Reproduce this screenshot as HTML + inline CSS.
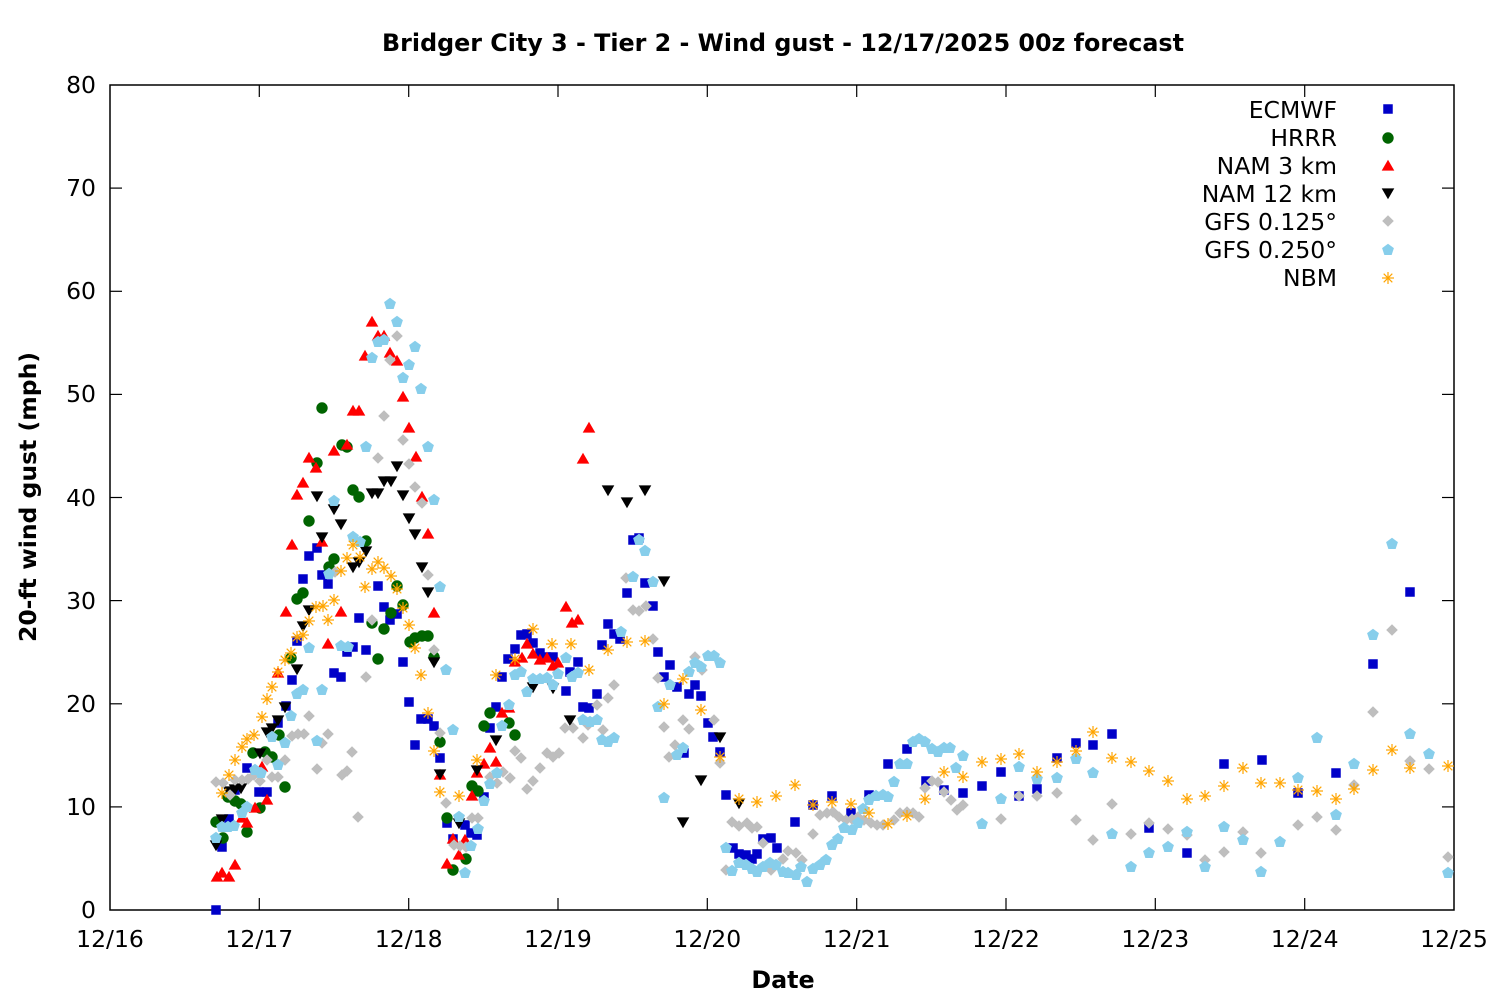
<!DOCTYPE html>
<html><head><meta charset="utf-8"><style>
html,body{margin:0;padding:0;background:#fff}
svg{display:block}
text{font-family:"DejaVu Sans","Liberation Sans",sans-serif;fill:#000}
</style></head><body>
<svg width="1500" height="1000" viewBox="0 0 1500 1000" xmlns="http://www.w3.org/2000/svg" xmlns:xlink="http://www.w3.org/1999/xlink">
<defs>
<rect id="s" x="-4.75" y="-4.75" width="9.5" height="9.5" fill="#0000c8"/>
<circle id="c" r="5.7" fill="#006400"/>
<polygon id="u" points="0,-6.2 6.3,4.6 -6.3,4.6" fill="#ff0000"/>
<polygon id="d" points="0,6.2 6.3,-4.6 -6.3,-4.6" fill="#000000"/>
<polygon id="g" points="0,-5.8 5.8,0 0,5.8 -5.8,0" fill="#bebebe"/>
<polygon id="p" points="0,-6.2 5.9,-1.92 3.64,5.02 -3.64,5.02 -5.9,-1.92" fill="#87ceeb"/>
<g id="n" stroke="#ffa500" stroke-width="1.2" fill="none"><line x1="-6" y1="0" x2="6" y2="0"/><line x1="0" y1="-6" x2="0" y2="6"/><line x1="-4.3" y1="-4.3" x2="4.3" y2="4.3"/><line x1="-4.3" y1="4.3" x2="4.3" y2="-4.3"/></g>
</defs>
<rect width="1500" height="1000" fill="#fff"/>

<!-- ticks -->
<g stroke="#000" stroke-width="1.2">
<line x1="110" y1="806.9" x2="122" y2="806.9"/><line x1="110" y1="703.8" x2="122" y2="703.8"/><line x1="110" y1="600.6" x2="122" y2="600.6"/><line x1="110" y1="497.5" x2="122" y2="497.5"/><line x1="110" y1="394.4" x2="122" y2="394.4"/><line x1="110" y1="291.3" x2="122" y2="291.3"/><line x1="110" y1="188.1" x2="122" y2="188.1"/>
<line x1="1442" y1="806.9" x2="1454" y2="806.9"/><line x1="1442" y1="703.8" x2="1454" y2="703.8"/><line x1="1442" y1="600.6" x2="1454" y2="600.6"/><line x1="1442" y1="497.5" x2="1454" y2="497.5"/><line x1="1442" y1="394.4" x2="1454" y2="394.4"/><line x1="1442" y1="291.3" x2="1454" y2="291.3"/><line x1="1442" y1="188.1" x2="1454" y2="188.1"/>
<line x1="259.3" y1="898" x2="259.3" y2="910"/><line x1="408.7" y1="898" x2="408.7" y2="910"/><line x1="558" y1="898" x2="558" y2="910"/><line x1="707.3" y1="898" x2="707.3" y2="910"/><line x1="856.7" y1="898" x2="856.7" y2="910"/><line x1="1006" y1="898" x2="1006" y2="910"/><line x1="1155.3" y1="898" x2="1155.3" y2="910"/><line x1="1304.7" y1="898" x2="1304.7" y2="910"/>
<line x1="259.3" y1="85" x2="259.3" y2="97"/><line x1="408.7" y1="85" x2="408.7" y2="97"/><line x1="558" y1="85" x2="558" y2="97"/><line x1="707.3" y1="85" x2="707.3" y2="97"/><line x1="856.7" y1="85" x2="856.7" y2="97"/><line x1="1006" y1="85" x2="1006" y2="97"/><line x1="1155.3" y1="85" x2="1155.3" y2="97"/><line x1="1304.7" y1="85" x2="1304.7" y2="97"/>
</g>
<rect x="110" y="85" width="1344" height="825" fill="none" stroke="#000" stroke-width="1.5"/>

<!-- labels -->
<g font-size="23.5" text-anchor="end">
<text x="96" y="918">0</text><text x="96" y="815">10</text><text x="96" y="712">20</text><text x="96" y="609">30</text><text x="96" y="506">40</text><text x="96" y="402">50</text><text x="96" y="299">60</text><text x="96" y="196">70</text><text x="96" y="93">80</text>
</g>
<g font-size="23.5" text-anchor="middle">
<text x="110" y="947">12/16</text><text x="259.3" y="947">12/17</text><text x="408.7" y="947">12/18</text><text x="558" y="947">12/19</text><text x="707.3" y="947">12/20</text><text x="856.7" y="947">12/21</text><text x="1006" y="947">12/22</text><text x="1155.3" y="947">12/23</text><text x="1304.7" y="947">12/24</text><text x="1454" y="947">12/25</text>
</g>
<text x="783" y="51" font-size="23.8" font-weight="bold" text-anchor="middle">Bridger City 3 - Tier 2 - Wind gust - 12/17/2025 00z forecast</text>
<text x="783" y="988" font-size="23.8" font-weight="bold" text-anchor="middle">Date</text>
<text transform="translate(36,497) rotate(-90)" font-size="23.5" font-weight="bold" text-anchor="middle">20-ft wind gust (mph)</text>

<!-- legend -->
<g font-size="23.5" text-anchor="end">
<text x="1337" y="118">ECMWF</text><text x="1337" y="146">HRRR</text><text x="1337" y="174">NAM 3 km</text><text x="1337" y="202">NAM 12 km</text><text x="1337" y="230">GFS 0.125°</text><text x="1337" y="258">GFS 0.250°</text><text x="1337" y="286">NBM</text>
</g>
<use href="#s" x="1388" y="109"/><use href="#c" x="1388" y="138"/><use href="#u" x="1388" y="166"/><use href="#d" x="1388" y="193"/><use href="#g" x="1388" y="221"/><use href="#p" x="1388" y="250"/><use href="#n" x="1388" y="278"/>

<!-- ECMWF -->
<g>
<use href="#s" x="216" y="910"/><use href="#s" x="222" y="847"/><use href="#s" x="229" y="819"/><use href="#s" x="235" y="790"/><use href="#s" x="247" y="768"/><use href="#s" x="259" y="792"/><use href="#s" x="267" y="792"/><use href="#s" x="278" y="723"/><use href="#s" x="286" y="706"/><use href="#s" x="292" y="680"/><use href="#s" x="297" y="641"/><use href="#s" x="303" y="579"/><use href="#s" x="309" y="556"/><use href="#s" x="317" y="548"/><use href="#s" x="322" y="575"/><use href="#s" x="328" y="584"/><use href="#s" x="334" y="673"/><use href="#s" x="341" y="677"/><use href="#s" x="347" y="652"/><use href="#s" x="353" y="647"/><use href="#s" x="359" y="618"/><use href="#s" x="366" y="650"/><use href="#s" x="378" y="586"/><use href="#s" x="384" y="607"/><use href="#s" x="390" y="620"/><use href="#s" x="397" y="614"/><use href="#s" x="403" y="662"/><use href="#s" x="409" y="702"/><use href="#s" x="415" y="745"/><use href="#s" x="421" y="719"/><use href="#s" x="428" y="719"/><use href="#s" x="434" y="726"/><use href="#s" x="440" y="758"/><use href="#s" x="447" y="823"/><use href="#s" x="453" y="839"/><use href="#s" x="465" y="825"/><use href="#s" x="471" y="833"/><use href="#s" x="477" y="835"/><use href="#s" x="484" y="797"/><use href="#s" x="490" y="728"/><use href="#s" x="496" y="707"/><use href="#s" x="502" y="677"/><use href="#s" x="508" y="659"/><use href="#s" x="515" y="649"/><use href="#s" x="521" y="635"/><use href="#s" x="527" y="634"/><use href="#s" x="533" y="643"/><use href="#s" x="540" y="653"/><use href="#s" x="546" y="657"/><use href="#s" x="553" y="657"/><use href="#s" x="566" y="691"/><use href="#s" x="570" y="672"/><use href="#s" x="578" y="662"/><use href="#s" x="583" y="707"/><use href="#s" x="589" y="708"/><use href="#s" x="597" y="694"/><use href="#s" x="602" y="645"/><use href="#s" x="608" y="624"/><use href="#s" x="614" y="634"/><use href="#s" x="620" y="639"/><use href="#s" x="627" y="593"/><use href="#s" x="633" y="540"/><use href="#s" x="639" y="538"/><use href="#s" x="645" y="583"/><use href="#s" x="653" y="606"/><use href="#s" x="658" y="652"/><use href="#s" x="664" y="677"/><use href="#s" x="670" y="665"/><use href="#s" x="677" y="687"/><use href="#s" x="684" y="753"/><use href="#s" x="689" y="694"/><use href="#s" x="695" y="685"/><use href="#s" x="701" y="696"/><use href="#s" x="708" y="723"/><use href="#s" x="713" y="737"/><use href="#s" x="720" y="752"/><use href="#s" x="726" y="795"/><use href="#s" x="733" y="848"/><use href="#s" x="739" y="854"/><use href="#s" x="746" y="855"/><use href="#s" x="752" y="859"/><use href="#s" x="757" y="854"/><use href="#s" x="763" y="839"/><use href="#s" x="771" y="838"/><use href="#s" x="777" y="848"/><use href="#s" x="795" y="822"/><use href="#s" x="813" y="805"/><use href="#s" x="832" y="796"/><use href="#s" x="851" y="813"/><use href="#s" x="869" y="795"/><use href="#s" x="888" y="764"/><use href="#s" x="907" y="749"/><use href="#s" x="926" y="781"/><use href="#s" x="944" y="790"/><use href="#s" x="963" y="793"/><use href="#s" x="982" y="786"/><use href="#s" x="1001" y="772"/><use href="#s" x="1019" y="796"/><use href="#s" x="1037" y="789"/><use href="#s" x="1057" y="758"/><use href="#s" x="1076" y="743"/><use href="#s" x="1093" y="745"/><use href="#s" x="1112" y="734"/><use href="#s" x="1149" y="828"/><use href="#s" x="1187" y="853"/><use href="#s" x="1224" y="764"/><use href="#s" x="1262" y="760"/><use href="#s" x="1298" y="793"/><use href="#s" x="1336" y="773"/><use href="#s" x="1373" y="664"/><use href="#s" x="1410" y="592"/>
</g>

<!-- HRRR -->
<g>
<use href="#c" x="216" y="822"/><use href="#c" x="223" y="838"/><use href="#c" x="228" y="797"/><use href="#c" x="235" y="801"/><use href="#c" x="241" y="804"/><use href="#c" x="247" y="832"/><use href="#c" x="253" y="753"/><use href="#c" x="260" y="808"/><use href="#c" x="265" y="752"/><use href="#c" x="272" y="757"/><use href="#c" x="279" y="735"/><use href="#c" x="285" y="787"/><use href="#c" x="291" y="658"/><use href="#c" x="297" y="599"/><use href="#c" x="303" y="593"/><use href="#c" x="309" y="521"/><use href="#c" x="317" y="463"/><use href="#c" x="322" y="408"/><use href="#c" x="329" y="567"/><use href="#c" x="334" y="559"/><use href="#c" x="342" y="445"/><use href="#c" x="347" y="447"/><use href="#c" x="353" y="490"/><use href="#c" x="359" y="497"/><use href="#c" x="366" y="541"/><use href="#c" x="372" y="623"/><use href="#c" x="378" y="659"/><use href="#c" x="384" y="629"/><use href="#c" x="391" y="613"/><use href="#c" x="397" y="586"/><use href="#c" x="403" y="605"/><use href="#c" x="410" y="642"/><use href="#c" x="415" y="638"/><use href="#c" x="422" y="636"/><use href="#c" x="428" y="636"/><use href="#c" x="434" y="657"/><use href="#c" x="440" y="742"/><use href="#c" x="447" y="818"/><use href="#c" x="453" y="870"/><use href="#c" x="466" y="859"/><use href="#c" x="472" y="786"/><use href="#c" x="478" y="791"/><use href="#c" x="484" y="726"/><use href="#c" x="490" y="713"/><use href="#c" x="509" y="723"/><use href="#c" x="515" y="735"/>
</g>

<!-- NAM 3 km -->
<g>
<use href="#u" x="217" y="877"/><use href="#u" x="222" y="873"/><use href="#u" x="229" y="877"/><use href="#u" x="235" y="865"/><use href="#u" x="242" y="818"/><use href="#u" x="247" y="823"/><use href="#u" x="255" y="808"/><use href="#u" x="262" y="767"/><use href="#u" x="267" y="800"/><use href="#u" x="278" y="673"/><use href="#u" x="286" y="612"/><use href="#u" x="292" y="545"/><use href="#u" x="297" y="495"/><use href="#u" x="303" y="483"/><use href="#u" x="309" y="458"/><use href="#u" x="316" y="468"/><use href="#u" x="322" y="542"/><use href="#u" x="328" y="644"/><use href="#u" x="334" y="451"/><use href="#u" x="341" y="612"/><use href="#u" x="347" y="445"/><use href="#u" x="353" y="411"/><use href="#u" x="359" y="411"/><use href="#u" x="365" y="356"/><use href="#u" x="372" y="322"/><use href="#u" x="378" y="336"/><use href="#u" x="384" y="336"/><use href="#u" x="390" y="353"/><use href="#u" x="397" y="361"/><use href="#u" x="403" y="397"/><use href="#u" x="409" y="428"/><use href="#u" x="416" y="457"/><use href="#u" x="422" y="497"/><use href="#u" x="428" y="534"/><use href="#u" x="434" y="613"/><use href="#u" x="440" y="775"/><use href="#u" x="447" y="864"/><use href="#u" x="453" y="839"/><use href="#u" x="459" y="855"/><use href="#u" x="465" y="840"/><use href="#u" x="472" y="796"/><use href="#u" x="477" y="773"/><use href="#u" x="484" y="764"/><use href="#u" x="490" y="748"/><use href="#u" x="496" y="762"/><use href="#u" x="502" y="713"/><use href="#u" x="509" y="708"/><use href="#u" x="515" y="662"/><use href="#u" x="522" y="658"/><use href="#u" x="527" y="644"/><use href="#u" x="533" y="654"/><use href="#u" x="540" y="660"/><use href="#u" x="547" y="658"/><use href="#u" x="553" y="666"/><use href="#u" x="558" y="663"/><use href="#u" x="566" y="607"/><use href="#u" x="572" y="623"/><use href="#u" x="578" y="620"/><use href="#u" x="583" y="459"/><use href="#u" x="589" y="428"/>
</g>

<!-- NAM 12 km -->
<g>
<use href="#d" x="216" y="845"/><use href="#d" x="222" y="819"/><use href="#d" x="229" y="791"/><use href="#d" x="235" y="789"/><use href="#d" x="241" y="788"/><use href="#d" x="260" y="753"/><use href="#d" x="267" y="732"/><use href="#d" x="272" y="728"/><use href="#d" x="278" y="720"/><use href="#d" x="285" y="707"/><use href="#d" x="297" y="669"/><use href="#d" x="303" y="626"/><use href="#d" x="309" y="610"/><use href="#d" x="317" y="496"/><use href="#d" x="322" y="537"/><use href="#d" x="334" y="509"/><use href="#d" x="341" y="524"/><use href="#d" x="353" y="567"/><use href="#d" x="359" y="562"/><use href="#d" x="366" y="551"/><use href="#d" x="372" y="493"/><use href="#d" x="378" y="493"/><use href="#d" x="384" y="481"/><use href="#d" x="391" y="481"/><use href="#d" x="397" y="466"/><use href="#d" x="403" y="495"/><use href="#d" x="409" y="518"/><use href="#d" x="415" y="534"/><use href="#d" x="422" y="567"/><use href="#d" x="428" y="592"/><use href="#d" x="434" y="662"/><use href="#d" x="440" y="774"/><use href="#d" x="459" y="823"/><use href="#d" x="477" y="770"/><use href="#d" x="496" y="740"/><use href="#d" x="533" y="687"/><use href="#d" x="553" y="688"/><use href="#d" x="570" y="720"/><use href="#d" x="608" y="490"/><use href="#d" x="627" y="502"/><use href="#d" x="645" y="490"/><use href="#d" x="664" y="581"/><use href="#d" x="683" y="822"/><use href="#d" x="701" y="780"/><use href="#d" x="720" y="737"/><use href="#d" x="739" y="803"/>
</g>

<!-- GFS 0.125 -->
<g>
<use href="#g" x="216" y="782"/><use href="#g" x="223" y="783"/><use href="#g" x="230" y="795"/><use href="#g" x="235" y="780"/><use href="#g" x="242" y="780"/><use href="#g" x="248" y="779"/><use href="#g" x="254" y="775"/><use href="#g" x="260" y="781"/><use href="#g" x="267" y="760"/><use href="#g" x="272" y="777"/><use href="#g" x="278" y="777"/><use href="#g" x="285" y="760"/><use href="#g" x="292" y="736"/><use href="#g" x="298" y="734"/><use href="#g" x="304" y="734"/><use href="#g" x="309" y="716"/><use href="#g" x="317" y="769"/><use href="#g" x="322" y="743"/><use href="#g" x="328" y="734"/><use href="#g" x="335" y="572"/><use href="#g" x="342" y="775"/><use href="#g" x="347" y="771"/><use href="#g" x="352" y="752"/><use href="#g" x="358" y="817"/><use href="#g" x="366" y="677"/><use href="#g" x="372" y="620"/><use href="#g" x="378" y="458"/><use href="#g" x="384" y="416"/><use href="#g" x="390" y="360"/><use href="#g" x="397" y="336"/><use href="#g" x="403" y="440"/><use href="#g" x="409" y="464"/><use href="#g" x="415" y="487"/><use href="#g" x="422" y="503"/><use href="#g" x="428" y="575"/><use href="#g" x="434" y="650"/><use href="#g" x="440" y="733"/><use href="#g" x="446" y="803"/><use href="#g" x="454" y="845"/><use href="#g" x="460" y="846"/><use href="#g" x="466" y="847"/><use href="#g" x="472" y="818"/><use href="#g" x="478" y="818"/><use href="#g" x="490" y="777"/><use href="#g" x="497" y="783"/><use href="#g" x="503" y="772"/><use href="#g" x="510" y="778"/><use href="#g" x="515" y="751"/><use href="#g" x="521" y="758"/><use href="#g" x="527" y="789"/><use href="#g" x="533" y="781"/><use href="#g" x="540" y="768"/><use href="#g" x="547" y="753"/><use href="#g" x="553" y="757"/><use href="#g" x="559" y="753"/><use href="#g" x="565" y="728"/><use href="#g" x="573" y="728"/><use href="#g" x="583" y="738"/><use href="#g" x="588" y="725"/><use href="#g" x="597" y="705"/><use href="#g" x="603" y="730"/><use href="#g" x="608" y="698"/><use href="#g" x="614" y="685"/><use href="#g" x="626" y="578"/><use href="#g" x="633" y="610"/><use href="#g" x="639" y="611"/><use href="#g" x="646" y="606"/><use href="#g" x="653" y="639"/><use href="#g" x="658" y="678"/><use href="#g" x="664" y="727"/><use href="#g" x="669" y="757"/><use href="#g" x="675" y="745"/><use href="#g" x="683" y="720"/><use href="#g" x="689" y="729"/><use href="#g" x="695" y="657"/><use href="#g" x="702" y="670"/><use href="#g" x="714" y="720"/><use href="#g" x="720" y="763"/><use href="#g" x="726" y="870"/><use href="#g" x="732" y="822"/><use href="#g" x="739" y="826"/><use href="#g" x="747" y="823"/><use href="#g" x="752" y="828"/><use href="#g" x="757" y="827"/><use href="#g" x="763" y="843"/><use href="#g" x="771" y="870"/><use href="#g" x="783" y="859"/><use href="#g" x="788" y="851"/><use href="#g" x="796" y="853"/><use href="#g" x="802" y="860"/><use href="#g" x="813" y="834"/><use href="#g" x="820" y="815"/><use href="#g" x="827" y="813"/><use href="#g" x="833" y="812"/><use href="#g" x="839" y="817"/><use href="#g" x="846" y="820"/><use href="#g" x="852" y="819"/><use href="#g" x="858" y="817"/><use href="#g" x="864" y="820"/><use href="#g" x="871" y="823"/><use href="#g" x="877" y="825"/><use href="#g" x="883" y="825"/><use href="#g" x="894" y="820"/><use href="#g" x="900" y="813"/><use href="#g" x="907" y="812"/><use href="#g" x="913" y="813"/><use href="#g" x="919" y="817"/><use href="#g" x="925" y="788"/><use href="#g" x="932" y="781"/><use href="#g" x="938" y="782"/><use href="#g" x="944" y="792"/><use href="#g" x="951" y="800"/><use href="#g" x="957" y="810"/><use href="#g" x="963" y="805"/><use href="#g" x="1001" y="819"/><use href="#g" x="1019" y="796"/><use href="#g" x="1037" y="796"/><use href="#g" x="1057" y="793"/><use href="#g" x="1076" y="820"/><use href="#g" x="1093" y="840"/><use href="#g" x="1112" y="804"/><use href="#g" x="1131" y="834"/><use href="#g" x="1149" y="823"/><use href="#g" x="1168" y="829"/><use href="#g" x="1187" y="835"/><use href="#g" x="1205" y="860"/><use href="#g" x="1224" y="852"/><use href="#g" x="1243" y="832"/><use href="#g" x="1261" y="853"/><use href="#g" x="1298" y="825"/><use href="#g" x="1317" y="817"/><use href="#g" x="1336" y="830"/><use href="#g" x="1354" y="785"/><use href="#g" x="1373" y="712"/><use href="#g" x="1392" y="630"/><use href="#g" x="1410" y="761"/><use href="#g" x="1429" y="769"/><use href="#g" x="1448" y="857"/>
</g>

<!-- GFS 0.250 -->
<g>
<use href="#p" x="216" y="838"/><use href="#p" x="222" y="827"/><use href="#p" x="228" y="827"/><use href="#p" x="234" y="826"/><use href="#p" x="242" y="813"/><use href="#p" x="247" y="807"/><use href="#p" x="255" y="770"/><use href="#p" x="261" y="773"/><use href="#p" x="272" y="737"/><use href="#p" x="278" y="765"/><use href="#p" x="285" y="743"/><use href="#p" x="291" y="716"/><use href="#p" x="297" y="694"/><use href="#p" x="303" y="690"/><use href="#p" x="309" y="648"/><use href="#p" x="317" y="741"/><use href="#p" x="322" y="690"/><use href="#p" x="329" y="574"/><use href="#p" x="334" y="501"/><use href="#p" x="341" y="646"/><use href="#p" x="348" y="647"/><use href="#p" x="353" y="537"/><use href="#p" x="360" y="542"/><use href="#p" x="366" y="447"/><use href="#p" x="372" y="358"/><use href="#p" x="378" y="342"/><use href="#p" x="384" y="340"/><use href="#p" x="390" y="304"/><use href="#p" x="397" y="322"/><use href="#p" x="403" y="378"/><use href="#p" x="409" y="365"/><use href="#p" x="415" y="347"/><use href="#p" x="421" y="389"/><use href="#p" x="428" y="447"/><use href="#p" x="434" y="500"/><use href="#p" x="440" y="587"/><use href="#p" x="446" y="670"/><use href="#p" x="453" y="730"/><use href="#p" x="459" y="817"/><use href="#p" x="465" y="873"/><use href="#p" x="471" y="846"/><use href="#p" x="478" y="829"/><use href="#p" x="484" y="801"/><use href="#p" x="490" y="784"/><use href="#p" x="497" y="773"/><use href="#p" x="502" y="726"/><use href="#p" x="509" y="705"/><use href="#p" x="515" y="675"/><use href="#p" x="521" y="672"/><use href="#p" x="527" y="692"/><use href="#p" x="533" y="679"/><use href="#p" x="540" y="679"/><use href="#p" x="547" y="678"/><use href="#p" x="553" y="685"/><use href="#p" x="558" y="674"/><use href="#p" x="566" y="658"/><use href="#p" x="572" y="677"/><use href="#p" x="578" y="673"/><use href="#p" x="583" y="720"/><use href="#p" x="590" y="722"/><use href="#p" x="597" y="720"/><use href="#p" x="602" y="740"/><use href="#p" x="608" y="742"/><use href="#p" x="614" y="738"/><use href="#p" x="621" y="632"/><use href="#p" x="633" y="577"/><use href="#p" x="639" y="540"/><use href="#p" x="645" y="551"/><use href="#p" x="653" y="582"/><use href="#p" x="658" y="707"/><use href="#p" x="664" y="798"/><use href="#p" x="670" y="685"/><use href="#p" x="677" y="755"/><use href="#p" x="683" y="748"/><use href="#p" x="689" y="672"/><use href="#p" x="695" y="663"/><use href="#p" x="701" y="667"/><use href="#p" x="708" y="656"/><use href="#p" x="714" y="656"/><use href="#p" x="720" y="663"/><use href="#p" x="726" y="848"/><use href="#p" x="732" y="871"/><use href="#p" x="739" y="863"/><use href="#p" x="746" y="865"/><use href="#p" x="752" y="869"/><use href="#p" x="757" y="872"/><use href="#p" x="763" y="867"/><use href="#p" x="770" y="863"/><use href="#p" x="776" y="865"/><use href="#p" x="783" y="872"/><use href="#p" x="788" y="873"/><use href="#p" x="796" y="875"/><use href="#p" x="801" y="867"/><use href="#p" x="807" y="882"/><use href="#p" x="813" y="869"/><use href="#p" x="820" y="865"/><use href="#p" x="826" y="860"/><use href="#p" x="832" y="845"/><use href="#p" x="838" y="839"/><use href="#p" x="844" y="828"/><use href="#p" x="852" y="830"/><use href="#p" x="858" y="823"/><use href="#p" x="863" y="809"/><use href="#p" x="869" y="800"/><use href="#p" x="876" y="796"/><use href="#p" x="883" y="795"/><use href="#p" x="888" y="797"/><use href="#p" x="894" y="782"/><use href="#p" x="900" y="764"/><use href="#p" x="907" y="764"/><use href="#p" x="913" y="742"/><use href="#p" x="919" y="739"/><use href="#p" x="925" y="742"/><use href="#p" x="932" y="749"/><use href="#p" x="938" y="752"/><use href="#p" x="944" y="748"/><use href="#p" x="950" y="748"/><use href="#p" x="956" y="768"/><use href="#p" x="963" y="756"/><use href="#p" x="982" y="824"/><use href="#p" x="1001" y="799"/><use href="#p" x="1019" y="767"/><use href="#p" x="1037" y="779"/><use href="#p" x="1057" y="778"/><use href="#p" x="1076" y="759"/><use href="#p" x="1093" y="773"/><use href="#p" x="1112" y="834"/><use href="#p" x="1131" y="867"/><use href="#p" x="1149" y="853"/><use href="#p" x="1168" y="847"/><use href="#p" x="1187" y="832"/><use href="#p" x="1205" y="867"/><use href="#p" x="1224" y="827"/><use href="#p" x="1243" y="840"/><use href="#p" x="1261" y="872"/><use href="#p" x="1280" y="842"/><use href="#p" x="1298" y="778"/><use href="#p" x="1317" y="738"/><use href="#p" x="1336" y="815"/><use href="#p" x="1354" y="764"/><use href="#p" x="1373" y="635"/><use href="#p" x="1392" y="544"/><use href="#p" x="1410" y="734"/><use href="#p" x="1429" y="754"/><use href="#p" x="1448" y="873"/>
</g>

<!-- NBM -->
<g>
<use href="#n" x="222" y="793"/><use href="#n" x="229" y="775"/><use href="#n" x="235" y="760"/><use href="#n" x="242" y="747"/><use href="#n" x="247" y="739"/><use href="#n" x="254" y="735"/><use href="#n" x="262" y="717"/><use href="#n" x="267" y="699"/><use href="#n" x="272" y="687"/><use href="#n" x="278" y="672"/><use href="#n" x="285" y="660"/><use href="#n" x="291" y="653"/><use href="#n" x="297" y="637"/><use href="#n" x="303" y="635"/><use href="#n" x="309" y="621"/><use href="#n" x="316" y="607"/><use href="#n" x="323" y="606"/><use href="#n" x="328" y="620"/><use href="#n" x="334" y="600"/><use href="#n" x="341" y="571"/><use href="#n" x="347" y="558"/><use href="#n" x="353" y="545"/><use href="#n" x="360" y="557"/><use href="#n" x="365" y="587"/><use href="#n" x="372" y="569"/><use href="#n" x="378" y="562"/><use href="#n" x="384" y="568"/><use href="#n" x="391" y="576"/><use href="#n" x="397" y="589"/><use href="#n" x="403" y="608"/><use href="#n" x="409" y="625"/><use href="#n" x="415" y="648"/><use href="#n" x="421" y="675"/><use href="#n" x="428" y="713"/><use href="#n" x="434" y="751"/><use href="#n" x="440" y="792"/><use href="#n" x="459" y="796"/><use href="#n" x="477" y="760"/><use href="#n" x="496" y="675"/><use href="#n" x="515" y="659"/><use href="#n" x="533" y="629"/><use href="#n" x="552" y="644"/><use href="#n" x="571" y="644"/><use href="#n" x="589" y="670"/><use href="#n" x="608" y="650"/><use href="#n" x="627" y="642"/><use href="#n" x="645" y="641"/><use href="#n" x="664" y="704"/><use href="#n" x="683" y="679"/><use href="#n" x="701" y="710"/><use href="#n" x="720" y="757"/><use href="#n" x="739" y="799"/><use href="#n" x="757" y="802"/><use href="#n" x="776" y="796"/><use href="#n" x="795" y="785"/><use href="#n" x="813" y="805"/><use href="#n" x="832" y="802"/><use href="#n" x="851" y="804"/><use href="#n" x="869" y="813"/><use href="#n" x="888" y="824"/><use href="#n" x="907" y="816"/><use href="#n" x="925" y="799"/><use href="#n" x="944" y="772"/><use href="#n" x="963" y="777"/><use href="#n" x="982" y="762"/><use href="#n" x="1001" y="759"/><use href="#n" x="1019" y="754"/><use href="#n" x="1037" y="772"/><use href="#n" x="1057" y="762"/><use href="#n" x="1076" y="751"/><use href="#n" x="1093" y="732"/><use href="#n" x="1112" y="758"/><use href="#n" x="1131" y="762"/><use href="#n" x="1149" y="771"/><use href="#n" x="1168" y="781"/><use href="#n" x="1187" y="799"/><use href="#n" x="1205" y="796"/><use href="#n" x="1224" y="786"/><use href="#n" x="1243" y="768"/><use href="#n" x="1261" y="783"/><use href="#n" x="1280" y="783"/><use href="#n" x="1298" y="790"/><use href="#n" x="1317" y="791"/><use href="#n" x="1336" y="799"/><use href="#n" x="1354" y="789"/><use href="#n" x="1373" y="770"/><use href="#n" x="1392" y="750"/><use href="#n" x="1410" y="768"/><use href="#n" x="1448" y="766"/>
</g>
</svg>
</body></html>
